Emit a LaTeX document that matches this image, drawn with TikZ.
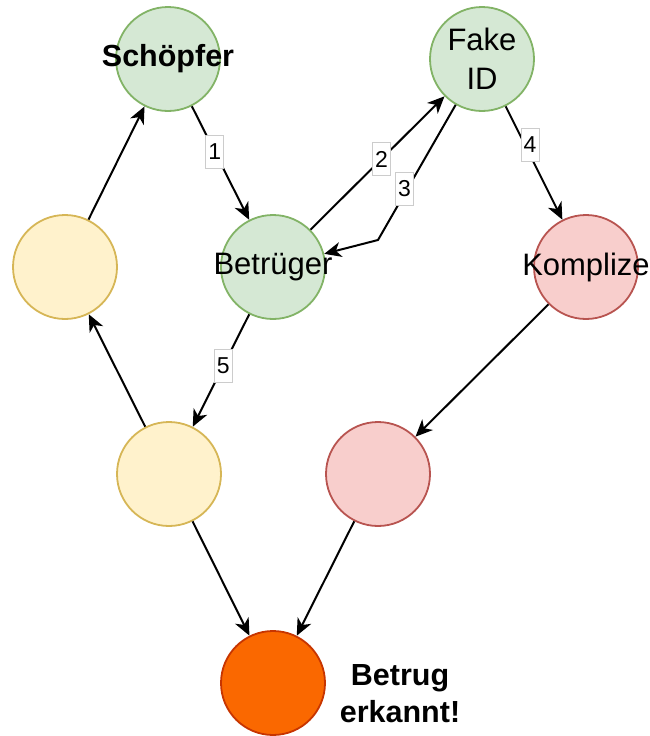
\documentclass[tikz,border=0pt]{standalone}
\usepackage{fontspec}
\setmainfont{Liberation Sans}
\usetikzlibrary{arrows.meta}

\definecolor{gruenfill}{HTML}{D5E8D4}
\definecolor{gruenrand}{HTML}{82B366}
\definecolor{gelbfill}{HTML}{FFF2CC}
\definecolor{gelbrand}{HTML}{D6B656}
\definecolor{rotfill}{HTML}{F8CECC}
\definecolor{rotrand}{HTML}{B85450}
\definecolor{orangefill}{HTML}{FA6800}
\definecolor{orangerand}{HTML}{C73500}

\tikzset{
  kreis/.style={circle, minimum size=104pt, inner sep=0pt, line width=1.8pt},
  gruen/.style={kreis, fill=gruenfill, draw=gruenrand},
  gelb/.style={kreis, fill=gelbfill, draw=gelbrand},
  rot/.style={kreis, fill=rotfill, draw=rotrand},
  alarm/.style={kreis, fill=orangefill, draw=orangerand},
  pfeil/.style={line width=2pt, -{Stealth[length=17pt, width=15pt, inset=5pt]}},
  nummer/.style={fill=white, draw=black!20, line width=0.6pt, inner sep=0pt,
    minimum width=18pt, minimum height=33pt, font=\fontsize{23}{27}\selectfont},
  gross/.style={inner sep=0pt, font=\fontsize{31}{37}\selectfont},
  grossfett/.style={inner sep=0pt, font=\fontsize{30.5}{37}\selectfont\bfseries},
  zweizeilig/.style={inner sep=0pt, align=center, font=\fontsize{31}{39}\selectfont}
}

\begin{document}
\begin{tikzpicture}[x=1pt,y=-1pt]
\useasboundingbox (0,0) rectangle (650,736);
% Knoten
\node[gruen, label={[grossfett]center:Sch\"opfer}] (schoepfer) at (168,59) {};
\node[gruen, label={[zweizeilig]center:Fake\\ID}] (fakeid) at (482,59) {};
\node[gelb] (links) at (65,267) {};
\node[gruen, label={[gross]center:Betr\"uger}] (betrueger) at (273,267) {};
\node[rot, label={[gross]center:Komplize}] (komplize) at (586,267) {};
\node[gelb] (untenlinks) at (169,474) {};
\node[rot] (untenrechts) at (378,474) {};
\node[alarm] (erkannt) at (273,683) {};
\node[grossfett, align=center] (erkannttext) at (400,694) {Betrug\\erkannt!};
\coordinate (knick) at (378,240);
% Kanten
\draw[pfeil] (links) -- (schoepfer);
\draw[pfeil] (schoepfer) -- node[nummer, pos=0.4] {1} (betrueger);
\draw[pfeil] (betrueger) -- node[nummer, pos=0.53] {2} (fakeid);
\draw[pfeil] (fakeid) -- node[nummer, pos=0.62, xshift=-3pt] {3} (knick) -- (betrueger);
\draw[pfeil] (fakeid) -- node[nummer, pos=0.34, xshift=5pt] {4} (komplize);
\draw[pfeil] (betrueger) -- node[nummer, pos=0.46] {5} (untenlinks);
\draw[pfeil] (komplize) -- (untenrechts);
\draw[pfeil] (untenlinks) -- (links);
\draw[pfeil] (untenlinks) -- (erkannt);
\draw[pfeil] (untenrechts) -- (erkannt);
\end{tikzpicture}
\end{document}
